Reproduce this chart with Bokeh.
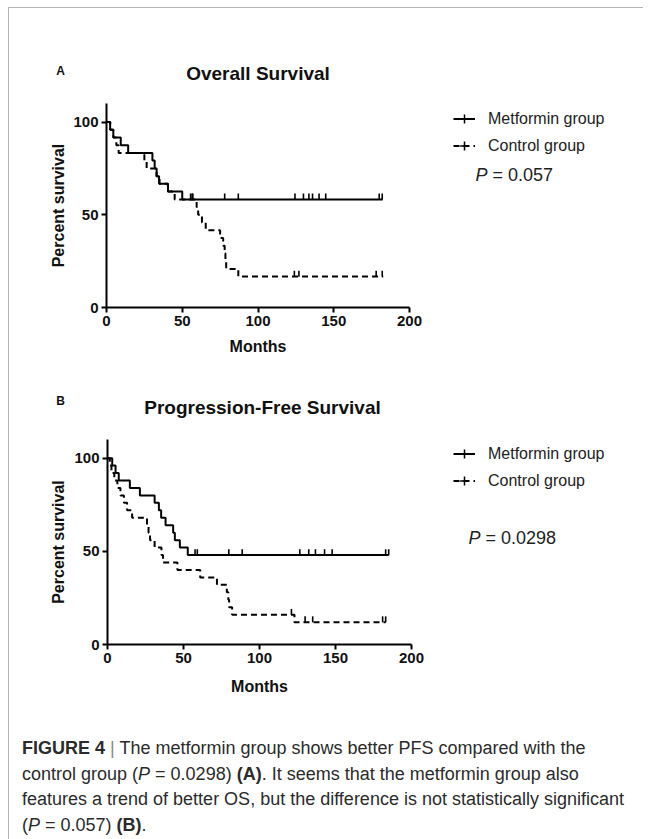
import numpy as np
from bokeh.plotting import figure
from bokeh.models import (Range1d, FixedTicker, Label, Legend, LegendItem, Div)
from bokeh.layouts import column
from bokeh.embed import file_html
from bokeh.resources import INLINE

# ---------------- data ----------------
month_ticks = [0, 50, 100, 150, 200]
pct_ticks = [0, 50, 100]
x_bounds = (0, 200)
y_bounds = (0, 110)

# Panel A: Overall Survival
os_met_t = [0, 2.4, 4.5, 9.4, 14.3, 30.3, 31.8, 33.1, 34.7, 40.6, 50.0, 182.3]
os_met_s = [100, 95.8, 91.7, 87.5, 83.3, 79.2, 75.0, 70.8, 66.7, 62.5, 58.3, 58.3]
os_met_cens = [55.5, 57.0, 78.0, 87.0, 124.4, 130.0, 133.6, 136.0, 140.3, 144.7, 180.0, 182.0]

os_ctl_t = [0, 2.5, 4.5, 6.5, 8.0, 25.0, 26.5, 33.0, 35.0, 40.5, 45.0, 59.5, 60.5,
            63.0, 65.5, 75.0, 77.0, 78.0, 78.5, 79.0, 87.0, 182.7]
os_ctl_s = [100, 95.8, 91.7, 87.5, 83.3, 79.2, 75.0, 70.8, 66.7, 62.5, 58.3, 54.2, 50.0,
            45.8, 41.7, 37.5, 33.3, 29.2, 25.0, 20.8, 16.7, 16.7]
os_ctl_cens = [56.5, 124.0, 127.0, 178.0, 182.0]

# Panel B: Progression-Free Survival
pfs_met_t = [0, 3.1, 5.3, 7.4, 14.7, 21.3, 31.0, 33.8, 35.3, 38.2, 43.2, 44.3, 47.6, 52.8, 185.0]
pfs_met_s = [100, 96, 92, 88, 84, 80, 76, 72, 68, 64, 60, 56, 52, 48, 48]
pfs_met_cens = [57.6, 59.1, 79.8, 88.6, 126.5, 132.4, 136.8, 142.8, 147.8, 183.0, 185.0]

pfs_ctl_t = [0, 1.5, 2.6, 4.5, 6.5, 8.5, 10.8, 12.9, 16.2, 26.0, 27.0, 28.0, 31.0, 35.5,
             36.5, 46.0, 61.0, 72.0, 78.5, 79.5, 80.0, 82.0, 123.0, 183.0]
pfs_ctl_s = [100, 96, 92, 88, 84, 80, 76, 72, 68, 64, 60, 56, 52, 48,
             44, 40, 36, 32, 28, 24, 20, 16, 12, 12]
pfs_ctl_cens = [121.0, 130.0, 135.0, 181.0, 183.0]

group_labels = ["Metformin group", "Control group"]
titles = ["Overall Survival", "Progression-Free Survival"]
letters = ["A", "B"]
p_values = ["= 0.057", "= 0.0298"]
x_title = "Months"
y_title = "Percent survival"

# ---------------- styling / layout ----------------
FONT = "Liberation Sans"
INK = "#111111"
DASH = "6 4"
TICK_LIFT = 1.5   # censor tick centre lifted above the curve (in % units)
W = 634
LEFT = 9          # page x of the figures' left edge


def level_at(t, s, c):
    t = np.asarray(t)
    s = np.asarray(s)
    idx = np.searchsorted(t, np.asarray(c), side="right") - 1
    return s[idx]


def panel(i, met_t, met_s, met_c, ctl_t, ctl_s, ctl_c, g):
    H, top = g["h"], g["top"]
    ox = g["origin"][0] - LEFT
    oy = g["origin"][1] - top
    sx, sy = g["sx"], g["sy"]
    p = figure(width=W, height=H, title=None,
               x_range=Range1d(-ox / sx, (W - ox) / sx),
               y_range=Range1d(-(H - oy) / sy, oy / sy),
               output_backend="svg", toolbar_location=None,
               min_border_left=0, min_border_right=0,
               min_border_top=0, min_border_bottom=0)
    p.outline_line_color = None
    p.grid.visible = False

    def to_data(px, py):  # page pixel -> data
        return (px - LEFT - ox) / sx, (oy - (py - top)) / sy

    for ax in (p.xaxis[0], p.yaxis[0]):
        ax.fixed_location = 0
        ax.axis_line_width = 2
        ax.axis_line_color = "black"
        ax.major_tick_line_width = 2
        ax.major_tick_line_color = "black"
        ax.major_tick_out = 5
        ax.major_tick_in = 0
        ax.minor_tick_out = 0
        ax.minor_tick_in = 0
        ax.major_label_text_font = FONT
        ax.major_label_text_font_style = "bold"
        ax.major_label_text_font_size = "15px"
        ax.major_label_text_color = INK
        ax.major_label_standoff = 3
    p.xaxis.ticker = FixedTicker(ticks=month_ticks)
    p.yaxis.ticker = FixedTicker(ticks=pct_ticks)
    p.xaxis.bounds = x_bounds
    p.yaxis.bounds = y_bounds

    r_met = p.step(met_t, met_s, mode="after", line_width=2, line_color="black")
    r_ctl = p.step(ctl_t, ctl_s, mode="after", line_width=2, line_color="black",
                   line_dash=DASH)

    # censor ticks: short vertical marks sitting on the curves
    mc = level_at(met_t, met_s, met_c)
    cc = level_at(ctl_t, ctl_s, ctl_c)
    p.scatter(x=met_c, y=mc + TICK_LIFT, marker="dash", angle=np.pi / 2, size=6,
              line_color="black", line_width=1.6)
    p.scatter(x=ctl_c, y=cc + TICK_LIFT, marker="dash", angle=np.pi / 2, size=6,
              line_color="black", line_width=1.6)
    # same censor points as zero-size markers: they only supply the legend swatch tick
    k1 = p.scatter(x=met_c, y=mc, marker="cross", size=0,
                   line_color="black", line_width=1.5)
    k2 = p.scatter(x=ctl_c, y=cc, marker="cross", size=0,
                   line_color="black", line_width=1.5)

    leg = Legend(items=[LegendItem(label=group_labels[0], renderers=[r_met, k1]),
                        LegendItem(label=group_labels[1], renderers=[r_ctl, k2])],
                 location=g["leg"])
    leg.border_line_color = None
    leg.background_fill_alpha = 0
    leg.padding = 0
    leg.margin = 0
    leg.spacing = 0
    leg.glyph_width = 22
    leg.glyph_height = 27
    leg.label_height = 27
    leg.label_standoff = 13
    leg.label_text_font = FONT
    leg.label_text_font_size = "16px"
    leg.label_text_color = "#222222"
    p.add_layout(leg)

    def lab(pos, text, **kw):
        x, y = to_data(*pos)
        opts = dict(text_font=FONT, text_align="center", text_baseline="middle",
                    text_color=INK)
        opts.update(kw)
        p.add_layout(Label(x=x, y=y, text=text, **opts))

    lab(g["letter"], letters[i], text_font_style="bold", text_font_size="12px")
    lab(g["title"], titles[i], text_font_style="bold", text_font_size="19px")
    lab(g["xl"], x_title, text_font_style="bold", text_font_size="16px")
    lab(g["yl"], y_title, text_font_style="bold", text_font_size="16px", angle=np.pi / 2)
    lab(g["p"], "P", text_font_style="italic", text_font_size="18px",
        text_align="left", text_color="#222222")
    lab(g["p"], p_values[i], text_font_size="18px", text_align="left",
        text_color="#222222", x_offset=17)
    return p


# layout geometry, in page pixels
geomA = dict(h=363, top=8, origin=(106, 307), sx=1.515, sy=1.8545, leg=(444, 212),
             letter=(60, 70), title=(257.5, 73), p=(475, 174),
             xl=(257.5, 346), yl=(58, 205))
geomB = dict(h=335, top=371, origin=(107, 644), sx=1.52, sy=1.8636, leg=(444, 212),
             letter=(60, 400), title=(262, 407), p=(468, 537),
             xl=(259, 686), yl=(58, 541.5))

pA = panel(0, os_met_t, os_met_s, os_met_cens, os_ctl_t, os_ctl_s, os_ctl_cens, geomA)
pB = panel(1, pfs_met_t, pfs_met_s, pfs_met_cens, pfs_ctl_t, pfs_ctl_s, pfs_ctl_cens, geomB)

caption_html = (
    "<div style=\"font-family:'Liberation Sans',Arial,sans-serif;font-size:18px;"
    "line-height:25.7px;color:#2b2b2b;white-space:nowrap;padding:30px 0 0 13px;\">"
    "<b>FIGURE 4</b> <span style='color:#888'>|</span> The metformin group shows better PFS compared with the<br>"
    "control group (<i>P</i> = 0.0298) <b>(A)</b>. It seems that the metformin group also<br>"
    "features a trend of better OS, but the difference is not statistically significant<br>"
    "(<i>P</i> = 0.057) <b>(B)</b>."
    "</div>"
)
cap = Div(text=caption_html, width=W, height=133, margin=0)

layout = column(pA, pB, cap, spacing=0, margin=(7, 0, 0, 8),
                styles={"border-left": "1px solid #b4b4b4", "border-top": "1px solid #b4b4b4"})

open("out.html", "w").write(file_html(layout, INLINE))
